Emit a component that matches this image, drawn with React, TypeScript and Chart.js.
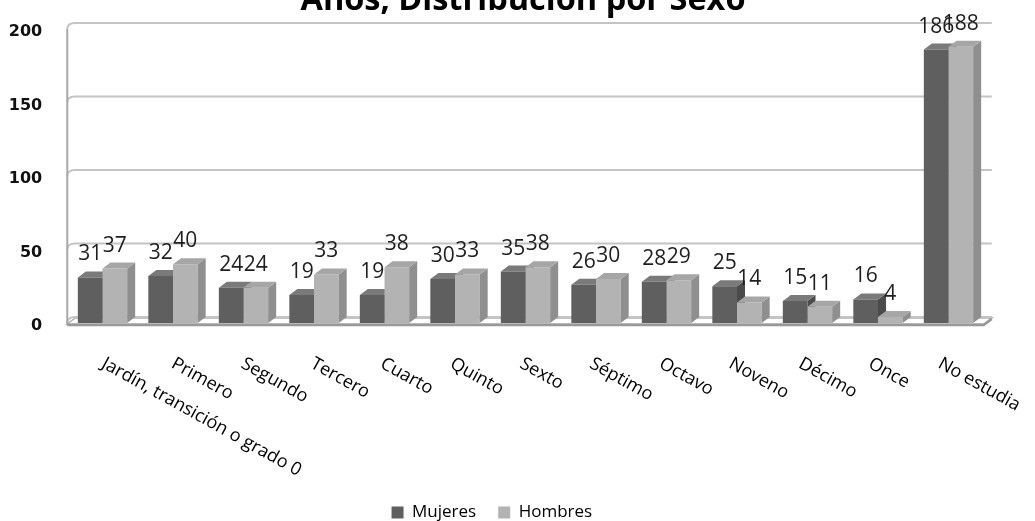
import React, { useEffect, useRef } from 'react';
import { Chart, registerables } from 'chart.js';

Chart.register(...registerables);

// ---- data ----
const categories = [
  'Jardín, transición o grado 0',
  'Primero',
  'Segundo',
  'Tercero',
  'Cuarto',
  'Quinto',
  'Sexto',
  'Séptimo',
  'Octavo',
  'Noveno',
  'Décimo',
  'Once',
  'No estudia',
];
const mujeres = [31, 32, 24, 19, 19, 30, 35, 26, 28, 25, 15, 16, 186];
const hombres = [37, 40, 24, 33, 38, 33, 38, 30, 29, 14, 11, 4, 188];
const yTickValues = [0, 50, 100, 150, 200];
const seriesNames = ['Mujeres', 'Hombres'];
const titleText = 'Años, Distribución por Sexo';

// ---- style ----
const CANVAS_W = 1035;
const CANVAS_H = 551;
const CANVAS_TOP = -20;
const DX = 8;
const DY = 6;
const faces = [
  { front: '#5f5f5f', side: '#4b4b4b', top: '#7a7a7a' },
  { front: '#b3b3b3', side: '#8f8f8f', top: '#a6a6a6' },
];
const FONT_SANS = '"Open Sans", "Noto Sans", sans-serif';

function drawFaces(chart: any, di: number) {
  const ctx = chart.ctx;
  const meta = chart.getDatasetMeta(di);
  const f = faces[di];
  ctx.save();
  meta.data.forEach((el: any) => {
    const { x, y, base, width } = el.getProps(['x', 'y', 'base', 'width'], true);
    const l = x - width / 2;
    const r = x + width / 2;
    ctx.fillStyle = f.side;
    ctx.beginPath();
    ctx.moveTo(r, y);
    ctx.lineTo(r + DX, y - DY);
    ctx.lineTo(r + DX, base - DY);
    ctx.lineTo(r, base);
    ctx.closePath();
    ctx.fill();
    ctx.fillStyle = f.top;
    ctx.beginPath();
    ctx.moveTo(l, y);
    ctx.lineTo(r, y);
    ctx.lineTo(r + DX, y - DY);
    ctx.lineTo(l + DX, y - DY);
    ctx.closePath();
    ctx.fill();
  });
  ctx.restore();
}

const threeDPlugin = {
  id: 'threeD',
  beforeDatasetsDraw(chart: any) {
    const ctx = chart.ctx;
    const { left, right, top, bottom } = chart.chartArea;
    const ys = chart.scales.y;
    ctx.save();
    // floor
    ctx.fillStyle = '#ffffff';
    ctx.strokeStyle = '#b0b0b0';
    ctx.lineWidth = 1.5;
    ctx.beginPath();
    ctx.moveTo(left, bottom + 1);
    ctx.lineTo(right, bottom + 1);
    ctx.lineTo(right + DX, bottom + 1 - DY);
    ctx.lineTo(left + DX, bottom + 1 - DY);
    ctx.closePath();
    ctx.fill();
    ctx.stroke();
    // back wall grid lines
    ctx.strokeStyle = '#c4c4c4';
    ctx.lineWidth = 2;
    yTickValues.forEach((v) => {
      const fy = ys.getPixelForValue(v);
      ctx.beginPath();
      ctx.moveTo(left, fy);
      ctx.quadraticCurveTo(left, fy - DY, left + DX, fy - DY);
      ctx.lineTo(right + DX, fy - DY);
      ctx.stroke();
    });
    // left wall line
    ctx.strokeStyle = '#a8a8a8';
    ctx.beginPath();
    ctx.moveTo(left, top);
    ctx.lineTo(left, bottom + 2);
    ctx.stroke();
    // floor front edge
    ctx.strokeStyle = '#999999';
    ctx.lineWidth = 2.5;
    ctx.beginPath();
    ctx.moveTo(left, bottom + 2);
    ctx.lineTo(right, bottom + 2);
    ctx.lineTo(right + DX, bottom + 2 - DY);
    ctx.stroke();
    ctx.restore();
    // dark series side/top faces (drawn before fronts so the next bar covers them)
    drawFaces(chart, 0);
  },
  afterDatasetsDraw(chart: any) {
    drawFaces(chart, 1);
    const ctx = chart.ctx;
    ctx.save();
    ctx.font = '21px ' + FONT_SANS;
    ctx.fillStyle = '#1e1e1e';
    ctx.textAlign = 'center';
    ctx.textBaseline = 'alphabetic';
    [mujeres, hombres].forEach((vals, di) => {
      const meta = chart.getDatasetMeta(di);
      meta.data.forEach((el: any, i: number) => {
        const { x, y } = el.getProps(['x', 'y'], true);
        ctx.fillText(String(vals[i]), x, y - 17);
      });
    });
    ctx.restore();
  },
  afterDraw(chart: any) {
    const ctx = chart.ctx;
    const xs = chart.scales.x;
    const bottom = chart.chartArea.bottom;
    ctx.save();
    // category labels, rotated clockwise, starting at the tick
    ctx.font = '18px ' + FONT_SANS;
    ctx.fillStyle = '#000000';
    ctx.textAlign = 'left';
    ctx.textBaseline = 'alphabetic';
    categories.forEach((c, i) => {
      const px = xs.getPixelForValue(i);
      ctx.save();
      ctx.translate(px - 2 - 0.8 * i, bottom + 44);
      ctx.rotate((29 * Math.PI) / 180);
      ctx.fillText(c, 0, 0);
      ctx.restore();
    });
    // chart title (top part is cut off by the page edge, as in the reference)
    ctx.font = 'bold 32.5px ' + FONT_SANS;
    ctx.textAlign = 'center';
    ctx.fillText(titleText, 523, 30);
    ctx.restore();
  },
};

export default function App() {
  const ref = useRef<HTMLCanvasElement | null>(null);
  useEffect(() => {
    if (!ref.current) return;
    const chart = new Chart(ref.current, {
      type: 'bar',
      data: {
        labels: categories,
        datasets: [
          {
            label: seriesNames[0],
            data: mujeres,
            backgroundColor: faces[0].front,
            borderWidth: 0,
            categoryPercentage: 0.7,
            barPercentage: 1.0,
          },
          {
            label: seriesNames[1],
            data: hombres,
            backgroundColor: faces[1].front,
            borderWidth: 0,
            categoryPercentage: 0.7,
            barPercentage: 1.0,
          },
        ],
      },
      options: {
        responsive: false,
        maintainAspectRatio: false,
        animation: false,
        events: [],
        layout: { padding: { left: 0, right: 51.25, top: 49, bottom: 0 } },
        scales: {
          x: {
            ticks: { display: false },
            grid: { display: false },
            border: { display: false },
            afterFit: (s: any) => {
              s.height = 159;
            },
          },
          y: {
            min: 0,
            max: 200,
            ticks: {
              stepSize: 50,
              padding: 17,
              labelOffset: 3,
              color: '#111111',
              font: { family: '"DejaVu Sans", sans-serif', weight: 'bold', size: 16 },
            },
            grid: { display: false },
            border: { display: false },
            afterFit: (s: any) => {
              s.width = 67.25;
            },
          },
        },
        plugins: {
          title: { display: false },
          legend: {
            display: true,
            position: 'bottom',
            labels: {
              boxWidth: 12,
              boxHeight: 12,
              padding: 22,
              color: '#000000',
              font: { family: FONT_SANS, size: 17 },
            },
          },
          tooltip: { enabled: false },
        },
      },
      plugins: [threeDPlugin],
    } as any);
    return () => chart.destroy();
  }, []);
  return (
    <div
      style={{
        position: 'fixed',
        left: 0,
        top: CANVAS_TOP,
        width: CANVAS_W,
        height: CANVAS_H,
        background: '#ffffff',
      }}
    >
      <canvas ref={ref} width={CANVAS_W} height={CANVAS_H} style={{ display: 'block' }} />
    </div>
  );
}
